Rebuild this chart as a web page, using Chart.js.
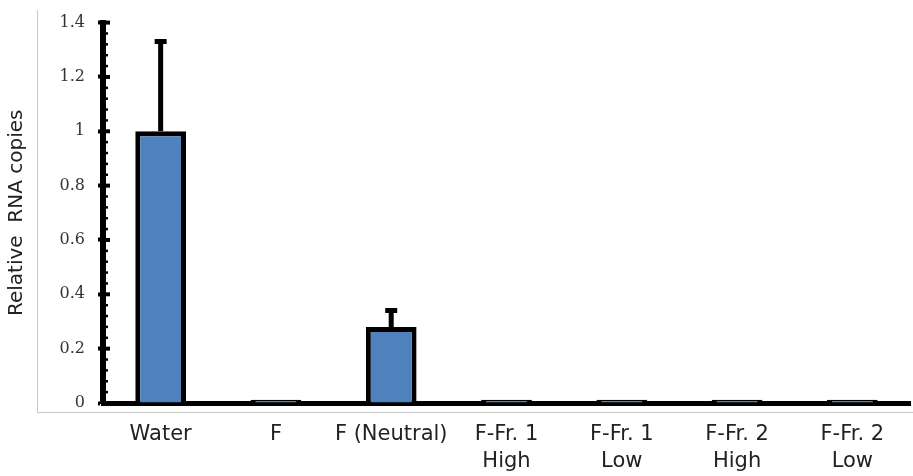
<!DOCTYPE html>
<html>
<head>
<meta charset="utf-8">
<script src="https://cdn.jsdelivr.net/npm/chart.js@4"></script>
<style>
  html, body { margin: 0; padding: 0; background: #fff; }
  #wrap { position: relative; width: 913px; height: 476px; }
  #frame { position: absolute; left: 37px; top: 10px; width: 876px; height: 402px;
           border-left: 1px solid #c8c8c8; border-bottom: 1px solid #c8c8c8; }
  #myChart { position: absolute; left: 0; top: 0; }
</style>
</head>
<body>
<div id="wrap">
  <div id="frame"></div>
  <canvas id="myChart" width="913" height="476"></canvas>
</div>
<script>
const categories = ['Water', 'F', 'F (Neutral)', ['F-Fr. 1', 'High'], ['F-Fr. 1', 'Low'], ['F-Fr. 2', 'High'], ['F-Fr. 2', 'Low']];
const rnaCopies = [1, 0.012, 0.28, 0.012, 0.012, 0.012, 0.012];
const errorUp = [0.33, 0, 0.06, 0, 0, 0, 0];
const yTicks = [0, 0.2, 0.4, 0.6, 0.8, 1, 1.2, 1.4];

const ctx = document.getElementById('myChart');

// error bars, drawn from the y scale
const errorBars = {
    id: 'errorBars',
    afterDatasetsDraw(chart) {
        const meta = chart.getDatasetMeta(0);
        const y = chart.scales.y;
        const c = chart.ctx;
        c.save();
        c.strokeStyle = '#000';
        c.lineWidth = 5;
        errorUp.forEach((e, i) => {
            if (!e) return;
            const x = meta.data[i].x;
            const yBase = y.getPixelForValue(rnaCopies[i]);
            const yTop = y.getPixelForValue(rnaCopies[i] + e);
            c.beginPath();
            c.moveTo(x, yBase);
            c.lineTo(x, yTop);
            c.moveTo(x - 6, yTop);
            c.lineTo(x + 6, yTop);
            c.stroke();
        });
        c.restore();
    }
};

// inner tick marks (major + minor) on the y axis
const innerTicks = {
    id: 'innerTicks',
    afterDraw(chart) {
        const y = chart.scales.y;
        const x0 = chart.chartArea.left;
        const c = chart.ctx;
        c.save();
        c.strokeStyle = '#000';
        for (let i = 0; i <= 35; i++) {
            const py = y.getPixelForValue(i * 0.04);
            const major = i % 5 === 0;
            c.lineWidth = major ? 4 : 2.5;
            c.beginPath();
            c.moveTo(x0, py);
            c.lineTo(x0 + (major ? 7 : 5), py);
            c.stroke();
        }
        c.restore();
    }
};

new Chart(ctx, {
    type: 'bar',
    data: {
        labels: categories,
        datasets: [{
            data: rnaCopies,
            backgroundColor: '#4f81bd',
            borderColor: '#000',
            borderWidth: 5,
            categoryPercentage: 1,
            barPercentage: 0.44,
        }]
    },
    options: {
        responsive: false,
        animation: false,
        layout: { padding: { top: 14, right: 3, left: 0, bottom: 0 } },
        plugins: {
            legend: { display: false },
            tooltip: { enabled: false },
        },
        scales: {
            x: {
                afterFit(scale) { scale.height = 73; },
                grid: { display: false, drawTicks: false },
                border: { color: '#000', width: 5 },
                ticks: {
                    color: '#222',
                    padding: 18,
                    maxRotation: 0,
                    autoSkip: false,
                    font: { family: 'DejaVu Sans', size: 21, lineHeight: 1.3 },
                },
            },
            y: {
                min: 0,
                max: 1.4,
                afterFit(scale) { scale.width = 103; },
                afterBuildTicks(scale) { scale.ticks = yTicks.map(v => ({ value: v })); },
                border: { color: '#000', width: 6 },
                grid: {
                    drawOnChartArea: false,
                    tickLength: 5,
                    tickWidth: 4,
                    tickColor: '#000',
                },
                ticks: {
                    color: '#333',
                    padding: 13,
                    font: { family: 'DejaVu Serif', size: 16 },
                    callback: function (value) {
                        return String(+value.toFixed(1));
                    },
                },
                title: {
                    display: true,
                    text: 'Relative  RNA copies',
                    color: '#222',
                    padding: { top: 5, bottom: 0 },
                    font: { family: 'DejaVu Sans', size: 20 },
                },
            }
        }
    },
    plugins: [errorBars, innerTicks]
});
</script>
</body>
</html>
